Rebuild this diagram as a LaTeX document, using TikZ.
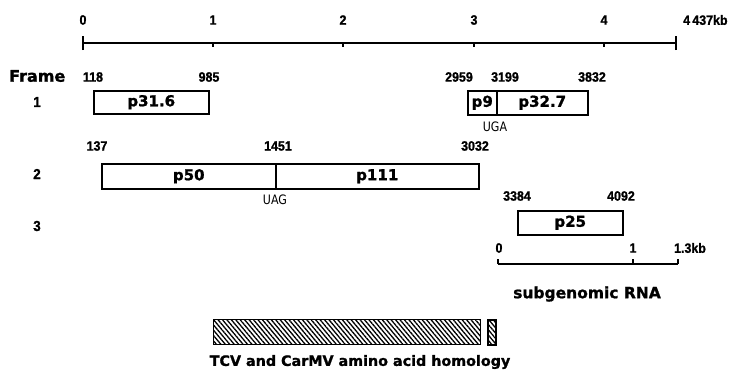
\documentclass[tikz,border=0pt]{standalone}
\usepackage{fontspec}
\setmainfont{DejaVu Sans}[BoldFeatures={FakeBold=1.2}]
\newfontfamily\numfont[FakeStretch=0.92,BoldFeatures={FakeBold=1.2}]{Liberation Sans}
\newfontfamily\codonfont[FakeStretch=0.85]{DejaVu Sans}
\usetikzlibrary{patterns.meta}
\begin{document}
\begin{tikzpicture}[x=1pt,y=-1pt,
  num/.style={font=\numfont\bfseries\fontsize{13.5}{14}\selectfont, inner sep=0pt},
  framelbl/.style={font=\numfont\bfseries\fontsize{14.5}{15}\selectfont, inner sep=0pt},
  prot/.style={draw, line width=1.5pt, inner sep=0pt, anchor=north west,
    font=\bfseries\fontsize{15}{16}\selectfont},
  codon/.style={font=\codonfont\fontsize{13}{14}\selectfont, inner sep=0pt},
  caption/.style={font=\bfseries\fontsize{15.5}{16}\selectfont, inner sep=0pt},
  hatch/.style={draw, line width=1.5pt, pattern={Lines[angle=-50, distance=3.4pt, line width=1.3pt]},
    inner sep=0pt, anchor=north west},
  rule/.style={line width=1.6pt}
]
\useasboundingbox (0,0) rectangle (735,372);
% genome scale
\coordinate (s0) at (83,43);
\coordinate (s1) at (213,43);
\coordinate (s2) at (343,43);
\coordinate (s3) at (474,43);
\coordinate (s4) at (604,43);
\coordinate (send) at (676,43);
\draw[rule] (s0) -- (send);
\draw[rule] ([yshift=-7pt]s0) -- ([yshift=7pt]s0);
\draw[rule] ([yshift=-7pt]send) -- ([yshift=7pt]send);
\foreach \c in {s1,s2,s3,s4} \draw[rule] (\c) -- ([yshift=-4pt]\c);
\node[num] (l0) at (83,20) {0};
\node[num] (l1) at (213,20) {1};
\node[num] (l2) at (343,20) {2};
\node[num] (l3) at (474,20) {3};
\node[num] (l4) at (604,20) {4};
\node[num, anchor=west] (lend) at (683,20) {4\,437kb};
% frame labels
\node[font=\bfseries\fontsize{16}{17}\selectfont, inner sep=0pt, anchor=west] (frame) at (9,76) {Frame};
\node[framelbl] (f1) at (37,102) {1};
\node[framelbl] (f2) at (37,174) {2};
\node[framelbl] (f3) at (37,226) {3};
% frame 1
\node[num] (n118) at (93,77) {118};
\node[num] (n985) at (209,77) {985};
\node[prot, minimum width=115pt, minimum height=23pt] (p316) at (93,90) {p31.6};
\node[num] (n2959) at (459,77) {2959};
\node[num] (n3199) at (505,77) {3199};
\node[num] (n3832) at (592,77) {3832};
\node[prot, minimum width=29pt, minimum height=24pt] (p9) at (467,90) {p9};
\node[prot, minimum width=91pt, minimum height=24pt] (p327) at (496,90) {p32.7};
\node[codon] (uga) at (495,127) {UGA};
% frame 2
\node[num] (n137) at (97,146) {137};
\node[num] (n1451) at (278,146) {1451};
\node[num] (n3032) at (475,146) {3032};
\node[prot, minimum width=174pt, minimum height=25pt] (p50) at (101,163) {p50};
\node[prot, minimum width=203pt, minimum height=25pt] (p111) at (275,163) {p111};
\node[codon] (uag) at (275,200) {UAG};
% frame 3
\node[num] (n3384) at (517,196) {3384};
\node[num] (n4092) at (621,196) {4092};
\node[prot, minimum width=105pt, minimum height=24pt] (p25) at (517,210) {p25};
% subgenomic scale
\coordinate (g0) at (498,264);
\coordinate (g1) at (633,264);
\coordinate (gend) at (678,264);
\draw[rule] (g0) -- (gend);
\foreach \c in {g0,g1,gend} \draw[rule] (\c) -- ([yshift=5pt]\c);
\node[num] (m0) at (499,248) {0};
\node[num] (m1) at (633,248) {1};
\node[num] (m13) at (690,248) {1.3kb};
\node[caption] (sg) at (587,294) {subgenomic RNA};
% homology
\node[hatch, minimum width=267pt, minimum height=25pt] (hom) at (213,319) {};
\node[hatch, minimum width=8pt, minimum height=25pt] (hom2) at (487,319) {};
\node[caption, font=\bfseries\fontsize{14.3}{15}\selectfont] (homl) at (360,362) {TCV and CarMV amino acid homology};
\end{tikzpicture}
\end{document}
